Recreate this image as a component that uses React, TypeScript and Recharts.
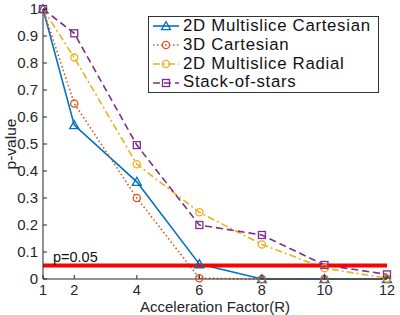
import React from 'react';
import { LineChart, Line, XAxis, YAxis, ReferenceLine } from 'recharts';

const X_VALUES = [1, 2, 4, 6, 8, 10, 12];
const CART2D = [1, 0.57, 0.36, 0.055, 0, 0, 0];
const CART3D = [1, 0.65, 0.3, 0.003, 0, 0, 0];
const RADIAL2D = [1, 0.82, 0.425, 0.247, 0.128, 0.04, 0.003];
const STARS = [1, 0.91, 0.496, 0.2, 0.163, 0.052, 0.017];
const Y_TICKS = [0, 0.1, 0.2, 0.3, 0.4, 0.5, 0.6, 0.7, 0.8, 0.9, 1];
const THRESHOLD = 0.05;
const THRESHOLD_LABEL = 'p=0.05';

const data = X_VALUES.map((x, i) => ({
  x,
  cart2d: CART2D[i],
  cart3d: CART3D[i],
  radial2d: RADIAL2D[i],
  stars: STARS[i],
}));

type MarkerType = 'triangle' | 'circle' | 'square';

const SERIES: { key: string; name: string; color: string; dash?: string; marker: MarkerType }[] = [
  { key: 'cart2d', name: '2D Multislice Cartesian', color: '#0072BD', marker: 'triangle' },
  { key: 'cart3d', name: '3D Cartesian', color: '#D95319', dash: '1.5 2.5', marker: 'circle' },
  { key: 'radial2d', name: '2D Multislice Radial', color: '#EDB120', dash: '7 3 2 3', marker: 'circle' },
  { key: 'stars', name: 'Stack-of-stars', color: '#7E2F8E', dash: '7 4', marker: 'square' },
];

const FONT = '"Liberation Sans", Arial, Helvetica, sans-serif';
const AXIS_COLOR = '#262626';

function Marker({ type, cx, cy, color }: { type: MarkerType; cx: number; cy: number; color: string }) {
  if (type === 'triangle') {
    const s = 4.5;
    return (
      <polygon
        points={`${cx},${cy - s} ${cx - s},${cy + s * 0.8} ${cx + s},${cy + s * 0.8}`}
        fill="none"
        stroke={color}
        strokeWidth={1.3}
      />
    );
  }
  if (type === 'square') {
    return <rect x={cx - 3.5} y={cy - 3.5} width={7} height={7} fill="none" stroke={color} strokeWidth={1.3} />;
  }
  return <circle cx={cx} cy={cy} r={3.6} fill="none" stroke={color} strokeWidth={1.3} />;
}

const YTick = (props: any) => {
  const { x, y, payload } = props;
  return (
    <g>
      <line x1={x} y1={y} x2={x + 4} y2={y} stroke={AXIS_COLOR} strokeWidth={1} />
      <text x={x - 5} y={y + 5} textAnchor="end" fontSize={15} fill={AXIS_COLOR} fontFamily={FONT}>
        {String(payload.value)}
      </text>
    </g>
  );
};

const XTick = (props: any) => {
  const { x, y, payload } = props;
  return (
    <g>
      <line x1={x} y1={y} x2={x} y2={y - 4} stroke={AXIS_COLOR} strokeWidth={1} />
      <text x={x} y={y + 16} textAnchor="middle" fontSize={14.5} fill={AXIS_COLOR} fontFamily={FONT}>
        {String(payload.value)}
      </text>
    </g>
  );
};

const ThresholdLabel = (props: any) => {
  const vb = props.viewBox || {};
  return (
    <text x={vb.x + 10} y={vb.y - 4} fontSize={14.5} fill="#111" fontFamily={FONT}>
      {THRESHOLD_LABEL}
    </text>
  );
};

function LegendBox() {
  return (
    <div
      style={{
        position: 'absolute',
        left: 148,
        top: 16,
        width: 229,
        height: 75,
        border: '1px solid #333',
        background: '#fff',
        fontFamily: FONT,
        fontSize: 16.8,
        letterSpacing: 0.7,
        lineHeight: '18.8px',
        color: '#111',
        paddingTop: 0,
        boxSizing: 'content-box',
      }}
    >
      {SERIES.map((s) => (
        <div key={s.key} style={{ display: 'flex', alignItems: 'center', height: 18.8, whiteSpace: 'nowrap' }}>
          <svg width={34} height={14} style={{ flex: 'none' }}>
            <line x1={4} y1={7} x2={30} y2={7} stroke={s.color} strokeWidth={1.6} strokeDasharray={s.dash} />
            <Marker type={s.marker} cx={17} cy={7} color={s.color} />
          </svg>
          <span>{s.name}</span>
        </div>
      ))}
    </div>
  );
}

export default function App() {
  return (
    <div style={{ position: 'absolute', left: 0, top: 0, width: 400, height: 315, background: '#fff' }}>
      <LineChart width={400} height={315} data={data} margin={{ top: 9, right: 13, left: 0, bottom: 0 }}>
        <XAxis
          dataKey="x"
          type="number"
          domain={[1, 12]}
          ticks={X_VALUES}
          interval={0}
          height={36}
          tickSize={0}
          tickMargin={0}
          tick={XTick}
          stroke={AXIS_COLOR}
          label={{
            value: 'Acceleration Factor(R)',
            position: 'insideBottom',
            offset: 3,
            fontSize: 15,
            fill: AXIS_COLOR,
            fontFamily: FONT,
          }}
        />
        <YAxis
          type="number"
          domain={[0, 1]}
          ticks={Y_TICKS}
          interval={0}
          width={43}
          tickSize={0}
          tickMargin={0}
          tick={YTick}
          stroke={AXIS_COLOR}
          label={{
            value: 'p-value',
            angle: -90,
            position: 'insideLeft',
            offset: 10,
            textAnchor: 'middle',
            fontSize: 15.5,
            fill: AXIS_COLOR,
            fontFamily: FONT,
          }}
        />
        {SERIES.map((s) => (
          <Line
            key={s.key}
            dataKey={s.key}
            name={s.name}
            stroke={s.color}
            strokeWidth={1.6}
            strokeDasharray={s.dash}
            isAnimationActive={false}
            dot={(p: any) => (
              <Marker key={`${s.key}-${p.index}`} type={s.marker} cx={p.cx} cy={p.cy} color={s.color} />
            )}
            activeDot={false}
          />
        ))}
        <ReferenceLine y={THRESHOLD} stroke="#FF0000" strokeWidth={4} label={<ThresholdLabel />} />
      </LineChart>
      <LegendBox />
    </div>
  );
}
